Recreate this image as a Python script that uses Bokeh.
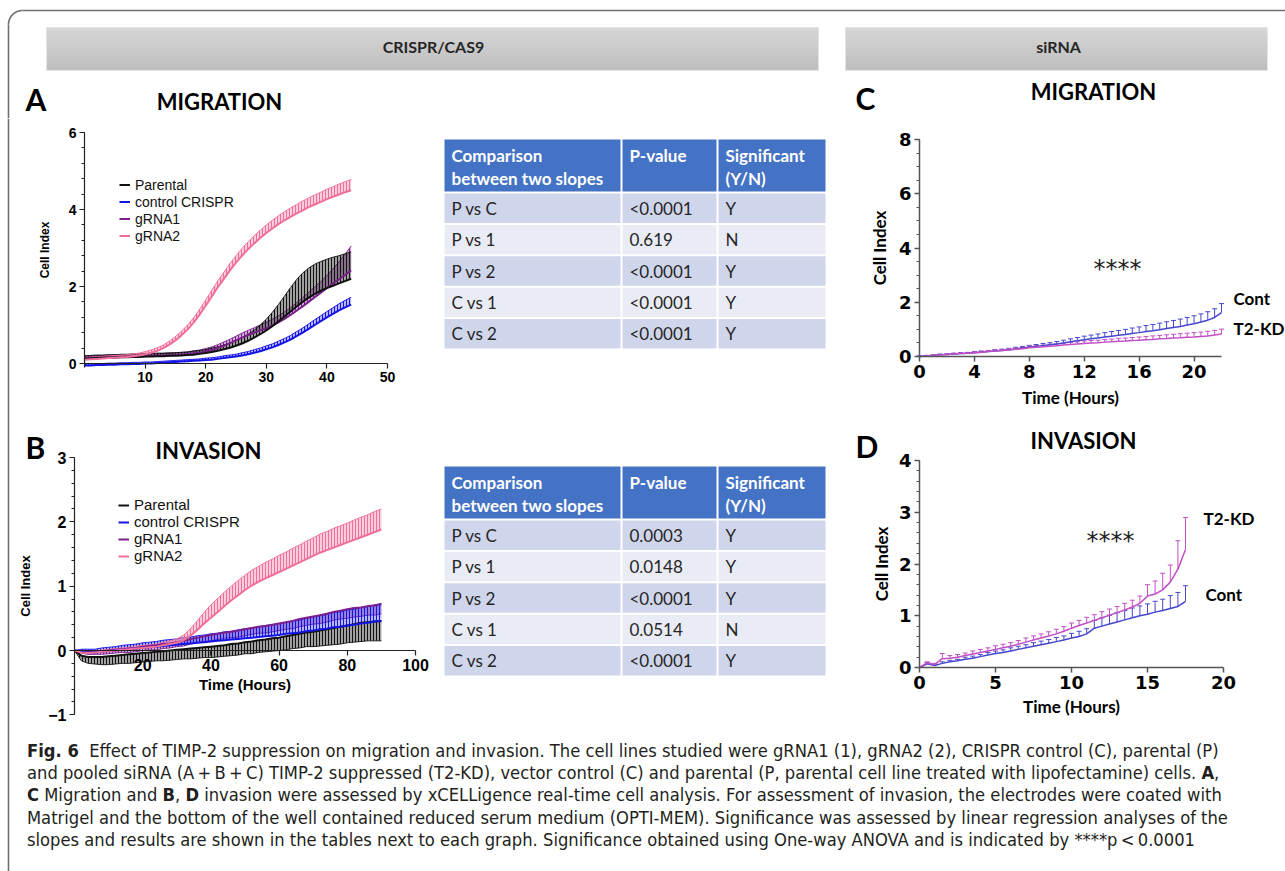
import math
import html
from bokeh.plotting import figure
from bokeh.models import (Range1d, FixedTicker, SingleIntervalTicker, Label, Legend,
                          LegendItem, ColumnDataSource, Whisker, TeeHead, Div)
from bokeh.layouts import column, row
from bokeh.embed import file_html
from bokeh.resources import INLINE
from bokeh.core.properties import value

# ---------------------------------------------------------------- data
# Panel A: CRISPR/Cas9 migration (hours, cell index), one-sided error bars
a_time = list(range(0, 45))
a_parental = [0.12, 0.13, 0.14, 0.14, 0.15, 0.15, 0.16, 0.16, 0.17, 0.17,
              0.18, 0.18, 0.19, 0.19, 0.20, 0.20, 0.21, 0.22, 0.23, 0.25,
              0.27, 0.30, 0.33, 0.37, 0.41, 0.46, 0.52, 0.59, 0.67, 0.76,
              0.86, 0.97, 1.09, 1.22, 1.35, 1.48, 1.60, 1.71, 1.81, 1.89,
              1.96, 2.02, 2.08, 2.14, 2.20]
a_parental_err = [0.08, 0.08, 0.08, 0.08, 0.08, 0.08, 0.08, 0.08, 0.08, 0.08,
                  0.08, 0.08, 0.08, 0.08, 0.08, 0.08, 0.08, 0.08, 0.09, 0.09,
                  0.09, 0.10, 0.10, 0.11, 0.12, 0.13, 0.15, 0.17, 0.20, 0.24,
                  0.29, 0.36, 0.44, 0.53, 0.62, 0.70, 0.75, 0.77, 0.77, 0.76,
                  0.75, 0.74, 0.72, 0.71, 0.70]
a_control = [-0.05, -0.05, -0.04, -0.04, -0.03, -0.03, -0.02, -0.02, -0.01, -0.01,
             0.00, 0.00, 0.01, 0.02, 0.03, 0.04, 0.05, 0.06, 0.07, 0.08,
             0.09, 0.10, 0.12, 0.14, 0.16, 0.18, 0.21, 0.24, 0.28, 0.32,
             0.37, 0.42, 0.48, 0.55, 0.62, 0.71, 0.80, 0.90, 1.00, 1.10,
             1.20, 1.29, 1.38, 1.46, 1.53]
a_control_err = [0.04] * 20 + [0.05, 0.05, 0.05, 0.06, 0.06, 0.06, 0.07, 0.07, 0.08, 0.08,
                               0.09, 0.09, 0.10, 0.10, 0.11, 0.12, 0.12, 0.13, 0.14, 0.14,
                               0.15, 0.16, 0.17, 0.18, 0.19]
a_grna1 = [0.14, 0.15, 0.15, 0.16, 0.16, 0.17, 0.17, 0.18, 0.18, 0.19,
           0.19, 0.20, 0.20, 0.21, 0.21, 0.22, 0.23, 0.24, 0.26, 0.28,
           0.31, 0.35, 0.40, 0.46, 0.53, 0.60, 0.67, 0.74, 0.80, 0.86,
           0.92, 0.99, 1.07, 1.16, 1.26, 1.37, 1.48, 1.60, 1.72, 1.84,
           1.96, 2.08, 2.19, 2.30, 2.42]
a_grna1_err = [0.05] * 15 + [0.06, 0.06, 0.06, 0.07, 0.07,
                             0.08, 0.08, 0.09, 0.10, 0.10, 0.11, 0.12, 0.12, 0.13, 0.14,
                             0.15, 0.16, 0.17, 0.18, 0.19, 0.21, 0.23, 0.25, 0.27, 0.29,
                             0.32, 0.38, 0.45, 0.54, 0.63]
a_grna2 = [0.10, 0.11, 0.12, 0.13, 0.14, 0.15, 0.16, 0.17, 0.19, 0.21,
           0.24, 0.28, 0.33, 0.40, 0.49, 0.60, 0.73, 0.88, 1.06, 1.27,
           1.50, 1.74, 1.98, 2.20, 2.42, 2.62, 2.80, 2.97, 3.12, 3.26,
           3.39, 3.51, 3.62, 3.72, 3.81, 3.90, 3.98, 4.06, 4.13, 4.20,
           4.27, 4.33, 4.39, 4.45, 4.50]
a_grna2_err = [0.06] * 10 + [0.07, 0.07, 0.08, 0.08, 0.09, 0.10, 0.11, 0.12, 0.13, 0.14,
                             0.15, 0.16, 0.17, 0.17, 0.18, 0.18, 0.19, 0.19, 0.20, 0.20,
                             0.21, 0.21, 0.22, 0.22, 0.23, 0.23, 0.24, 0.24, 0.25, 0.25,
                             0.26, 0.26, 0.27, 0.27, 0.28]

# Panel B: CRISPR/Cas9 invasion
b_time = list(range(0, 92, 2))
b_parental = [0.00, -0.08, -0.10, -0.10, -0.10, -0.09, -0.08, -0.07, -0.06, -0.05,
              -0.04, -0.03, -0.02, -0.01, 0.00, 0.01, 0.02, 0.03, 0.04, 0.05,
              0.06, 0.07, 0.08, 0.10, 0.11, 0.13, 0.14, 0.16, 0.17, 0.19,
              0.20, 0.22, 0.24, 0.26, 0.28, 0.29, 0.31, 0.33, 0.35, 0.37,
              0.39, 0.41, 0.43, 0.44, 0.45, 0.46]
b_parental_err = [0.00, 0.08, 0.10, 0.11, 0.12, 0.13, 0.13, 0.13, 0.14, 0.14,
                  0.14, 0.14, 0.14, 0.15, 0.15, 0.15, 0.15, 0.16, 0.16, 0.16,
                  0.17, 0.17, 0.17, 0.18, 0.18, 0.18, 0.19, 0.19, 0.19, 0.20,
                  0.20, 0.21, 0.21, 0.22, 0.22, 0.23, 0.24, 0.25, 0.26, 0.27,
                  0.27, 0.28, 0.29, 0.29, 0.30, 0.31]
b_control = [0.00, -0.02, -0.03, -0.03, -0.02, -0.01, 0.00, 0.01, 0.02, 0.03,
             0.04, 0.05, 0.06, 0.07, 0.08, 0.09, 0.10, 0.11, 0.12, 0.13,
             0.14, 0.15, 0.16, 0.17, 0.18, 0.19, 0.20, 0.21, 0.22, 0.23,
             0.24, 0.26, 0.27, 0.28, 0.30, 0.31, 0.33, 0.34, 0.36, 0.37,
             0.39, 0.40, 0.42, 0.43, 0.45, 0.46]
b_control_err = [0.00, 0.04, 0.05, 0.05, 0.06, 0.06, 0.06, 0.07, 0.07, 0.07,
                 0.08, 0.08, 0.08, 0.09, 0.09, 0.09, 0.10, 0.10, 0.11, 0.11,
                 0.12, 0.12, 0.13, 0.13, 0.14, 0.15, 0.15, 0.16, 0.17, 0.17,
                 0.18, 0.18, 0.19, 0.19, 0.20, 0.21, 0.21, 0.22, 0.23, 0.23,
                 0.24, 0.24, 0.25, 0.25, 0.26, 0.27]
b_grna1 = [0.00, -0.01, -0.02, -0.02, -0.01, 0.00, 0.01, 0.02, 0.03, 0.04,
           0.06, 0.07, 0.08, 0.10, 0.11, 0.13, 0.15, 0.18, 0.20, 0.22,
           0.24, 0.26, 0.28, 0.29, 0.31, 0.33, 0.35, 0.37, 0.38, 0.40,
           0.42, 0.44, 0.46, 0.49, 0.51, 0.53, 0.55, 0.57, 0.60, 0.62,
           0.64, 0.66, 0.67, 0.69, 0.70, 0.72]
b_grna1_err = [0.00, 0.03, 0.04, 0.04, 0.05, 0.05, 0.05, 0.05, 0.06, 0.06,
               0.06, 0.06, 0.07, 0.07, 0.07, 0.07, 0.08, 0.08, 0.08, 0.08,
               0.09, 0.09, 0.09, 0.09, 0.10, 0.10, 0.10, 0.10, 0.11, 0.11,
               0.11, 0.11, 0.12, 0.12, 0.12, 0.12, 0.13, 0.13, 0.13, 0.13,
               0.14, 0.14, 0.14, 0.14, 0.15, 0.15]
b_grna2 = [0.00, -0.03, -0.04, -0.03, -0.02, -0.01, 0.00, 0.01, 0.02, 0.03,
           0.04, 0.05, 0.06, 0.08, 0.10, 0.12, 0.16, 0.23, 0.32, 0.42,
           0.51, 0.60, 0.69, 0.78, 0.86, 0.94, 1.01, 1.07, 1.12, 1.17,
           1.22, 1.27, 1.32, 1.37, 1.42, 1.47, 1.52, 1.56, 1.60, 1.64,
           1.68, 1.72, 1.76, 1.80, 1.84, 1.88]
b_grna2_err = [0.00, 0.02, 0.02, 0.02, 0.03, 0.03, 0.03, 0.03, 0.03, 0.04,
               0.04, 0.04, 0.04, 0.05, 0.05, 0.06, 0.08, 0.11, 0.14, 0.17,
               0.20, 0.21, 0.22, 0.22, 0.23, 0.23, 0.24, 0.24, 0.25, 0.25,
               0.26, 0.26, 0.27, 0.27, 0.28, 0.28, 0.29, 0.29, 0.30, 0.30,
               0.30, 0.31, 0.31, 0.31, 0.32, 0.32]

# Panel C: siRNA migration
c_time = [k * 0.5 for k in range(45)]
c_cont = [0.00, 0.02, 0.04, 0.06, 0.07, 0.09, 0.11, 0.12, 0.14, 0.16,
          0.18, 0.20, 0.22, 0.25, 0.28, 0.31, 0.34, 0.37, 0.40, 0.43,
          0.46, 0.50, 0.54, 0.58, 0.62, 0.65, 0.68, 0.72, 0.75, 0.78,
          0.81, 0.85, 0.88, 0.92, 0.95, 0.99, 1.03, 1.07, 1.11, 1.16,
          1.21, 1.27, 1.34, 1.44, 1.62]
c_cont_err = [0.02, 0.02, 0.02, 0.03, 0.03, 0.03, 0.03, 0.03, 0.04, 0.04,
              0.04, 0.05, 0.05, 0.05, 0.06, 0.06, 0.07, 0.07, 0.08, 0.08,
              0.09, 0.10, 0.11, 0.12, 0.13, 0.14, 0.15, 0.16, 0.17, 0.18,
              0.19, 0.20, 0.21, 0.22, 0.23, 0.24, 0.25, 0.26, 0.27, 0.28,
              0.29, 0.30, 0.31, 0.32, 0.33]
c_kd = [0.00, 0.02, 0.04, 0.06, 0.07, 0.09, 0.11, 0.12, 0.14, 0.16,
        0.18, 0.20, 0.22, 0.24, 0.27, 0.29, 0.32, 0.34, 0.36, 0.38,
        0.40, 0.42, 0.44, 0.46, 0.48, 0.50, 0.51, 0.53, 0.54, 0.56,
        0.57, 0.59, 0.60, 0.62, 0.63, 0.65, 0.66, 0.68, 0.69, 0.71,
        0.72, 0.74, 0.76, 0.79, 0.83]
c_kd_err = [0.02, 0.02, 0.02, 0.02, 0.03, 0.03, 0.03, 0.03, 0.03, 0.03,
            0.04, 0.04, 0.04, 0.05, 0.05, 0.05, 0.06, 0.06, 0.06, 0.07,
            0.07, 0.07, 0.08, 0.08, 0.09, 0.09, 0.09, 0.10, 0.10, 0.11,
            0.11, 0.11, 0.12, 0.12, 0.13, 0.13, 0.14, 0.14, 0.15, 0.15,
            0.16, 0.16, 0.17, 0.17, 0.18]

# Panel D: siRNA invasion
d_time = [k * 0.5 for k in range(36)]
d_kd = [0.00, 0.09, 0.06, 0.17, 0.18, 0.20, 0.23, 0.26, 0.29, 0.32,
        0.35, 0.38, 0.41, 0.45, 0.49, 0.53, 0.57, 0.61, 0.65, 0.70,
        0.76, 0.81, 0.86, 0.91, 0.96, 1.01, 1.06, 1.11, 1.17, 1.24,
        1.38, 1.42, 1.50, 1.65, 1.90, 2.28]
d_kd_err = [0.00, 0.02, 0.02, 0.10, 0.05, 0.05, 0.05, 0.06, 0.06, 0.06,
            0.07, 0.07, 0.07, 0.07, 0.08, 0.08, 0.08, 0.08, 0.09, 0.09,
            0.10, 0.10, 0.11, 0.11, 0.12, 0.12, 0.12, 0.13, 0.13, 0.14,
            0.22, 0.25, 0.32, 0.33, 0.55, 0.62]
d_cont = [0.00, 0.07, 0.04, 0.08, 0.11, 0.13, 0.16, 0.18, 0.21, 0.24,
          0.27, 0.29, 0.32, 0.35, 0.38, 0.41, 0.44, 0.47, 0.50, 0.53,
          0.57, 0.60, 0.65, 0.76, 0.80, 0.84, 0.88, 0.92, 0.96, 1.00,
          1.03, 1.07, 1.10, 1.14, 1.18, 1.28]
d_cont_err = [0.00, 0.02, 0.02, 0.03, 0.03, 0.03, 0.04, 0.04, 0.04, 0.05,
              0.05, 0.05, 0.06, 0.06, 0.06, 0.07, 0.07, 0.07, 0.08, 0.08,
              0.09, 0.10, 0.10, 0.15, 0.16, 0.17, 0.18, 0.18, 0.19, 0.19,
              0.20, 0.21, 0.22, 0.25, 0.27, 0.30]

# Tables
table_header = [["Comparison", "between two slopes"], ["P-value"], ["Significant", "(Y/N)"]]
comparisons = ["P vs C", "P vs 1", "P vs 2", "C vs 1", "C vs 2"]
pvals_migration = ["<0.0001", "0.619", "<0.0001", "<0.0001", "<0.0001"]
sig_migration = ["Y", "N", "Y", "Y", "Y"]
pvals_invasion = ["0.0003", "0.0148", "<0.0001", "0.0514", "<0.0001"]
sig_invasion = ["Y", "Y", "Y", "N", "Y"]

legend_labels = ["Parental", "control CRISPR", "gRNA1", "gRNA2"]
sirna_labels = ["Cont", "T2-KD"]
section_titles = ["CRISPR/CAS9", "siRNA"]

caption_lines = [
    [("Fig. 6", True), ("\u00a0 Effect of TIMP-2 suppression on migration and invasion. The cell lines studied were gRNA1 (1), gRNA2 (2), CRISPR control (C), parental (P)", False)],
    [("and pooled siRNA (A\u2009+\u2009B\u2009+\u2009C) TIMP-2 suppressed (T2-KD), vector control (C) and parental (P, parental cell line treated with lipofectamine) cells. ", False), ("A", True), (",", False)],
    [("C", True), (" Migration and ", False), ("B", True), (", ", False), ("D", True), (" invasion were assessed by xCELLigence real-time cell analysis. For assessment of invasion, the electrodes were coated with", False)],
    [("Matrigel and the bottom of the well contained reduced serum medium (OPTI-MEM). Significance was assessed by linear regression analyses of the", False)],
    [("slopes and results are shown in the tables next to each graph. Significance obtained using One-way ANOVA and is indicated by ****p\u2009<\u20090.0001", False)],
]

# ---------------------------------------------------------------- colours / fonts
COL_PAR, COL_CTRL, COL_G1, COL_G2 = "#111111", "#1414e6", "#7a1f8c", "#ef6f98"
COL_CONT, COL_KD = "#4646cf", "#c24fc6"
ARIAL = "Liberation Sans"
CAL = "Lato"
BORDER = "#707070"


def canvas(w, h, x0, x1, y0, y1):
    """Decoration canvas in page pixel units (y grows downwards)."""
    p = figure(width=w, height=h, x_range=Range1d(x0, x1), y_range=Range1d(y1, y0),
               x_axis_type=None, y_axis_type=None, output_backend="svg",
               toolbar_location=None, min_border=0)
    p.outline_line_color = None
    return p


class Chart:
    """Full-bleed figure whose axes sit at x=0 / y=0 (fixed_location)."""

    def __init__(self, box, xcal, ycal, xbounds, ybounds):
        px0, px1, py0, py1 = box
        xa, xva, xb, xvb = xcal
        ya, yva, yb, yvb = ycal
        self.sx = (xb - xa) / (xvb - xva)
        self.sy = (ya - yb) / (yvb - yva)
        self.xa, self.xva, self.ya, self.yva = xa, xva, ya, yva
        xr = (self.dx(px0), self.dx(px1))
        yr = (self.dy(py1), self.dy(py0))
        p = figure(width=px1 - px0, height=py1 - py0, x_range=Range1d(*xr),
                   y_range=Range1d(*yr), min_border=0, output_backend="svg",
                   toolbar_location=None)
        p.grid.visible = False
        p.outline_line_color = None
        p.xaxis[0].fixed_location = 0
        p.yaxis[0].fixed_location = 0
        p.xaxis[0].bounds = xbounds
        p.yaxis[0].bounds = ybounds
        self.p = p

    def dx(self, px):
        return self.xva + (px - self.xa) / self.sx

    def dy(self, py):
        return self.yva + (self.ya - py) / self.sy

    def label(self, px, py, text, size, font=CAL, align="left", style="bold", color="black"):
        self.p.add_layout(Label(x=self.dx(px), y=self.dy(py), text=text, text_align=align,
                                text_baseline="middle", text_font=font,
                                text_font_style=style, text_font_size=size, text_color=color))


def style_axis(ax, font, size, color="#222222", lw=1.2, minor=True):
    ax.axis_line_color = color
    ax.axis_line_width = lw
    ax.major_tick_line_color = color
    ax.major_tick_line_width = lw
    ax.minor_tick_line_color = color if minor else None
    ax.major_tick_out = 5
    ax.major_tick_in = 0
    ax.minor_tick_out = 3
    ax.minor_tick_in = 0
    ax.major_label_text_font = font
    ax.major_label_text_font_size = size
    ax.major_label_text_font_style = "bold"
    ax.major_label_text_color = "black"
    ax.major_label_standoff = 3
    ax.axis_label_text_font_style = "bold"
    ax.axis_label_text_color = "black"


def draw_band(p, t, m, e, sign, color, alpha):
    edge = [mi + sign * ei for mi, ei in zip(m, e)]
    p.varea(x=t, y1=m, y2=edge, fill_color=color, fill_alpha=alpha,
            hatch_pattern="vertical_line", hatch_color=color, hatch_alpha=1.0,
            hatch_scale=3.0, hatch_weight=1.0)
    p.line(t, edge, line_color=color, line_width=1, line_alpha=0.9)


def add_legend(p, renderers, loc, size, row_h):
    items = [LegendItem(label=lab, renderers=[r]) for lab, r in zip(legend_labels, renderers)]
    lg = Legend(items=items, location=loc, orientation="vertical", border_line_color=None,
                background_fill_alpha=0, padding=0, margin=0, spacing=0,
                glyph_width=11, glyph_height=row_h, label_height=row_h, label_standoff=5,
                label_text_font=ARIAL, label_text_font_size=size, label_text_color="#111111")
    p.add_layout(lg)


def draw_table(p, top, pvals, sigs):
    cols = [443, 621, 717, 826]
    head_h, row_h = 53, 31.4
    L, R, T, B, C = [], [], [], [], []
    for j in range(3):
        L.append(cols[j] + 1); R.append(cols[j + 1] - 1)
        T.append(top); B.append(top + head_h - 1); C.append("#4472c4")
        for i in range(len(comparisons)):
            y0 = top + head_h + i * row_h
            L.append(cols[j] + 1); R.append(cols[j + 1] - 1)
            T.append(y0 + 1); B.append(y0 + row_h - 1)
            C.append("#cfd5ea" if i % 2 == 0 else "#e9ebf5")
    p.quad(left=L, right=R, top=T, bottom=B, fill_color=C, line_color=None)
    hx, hy, ht = [], [], []
    for j, lines in enumerate(table_header):
        for k, s in enumerate(lines):
            hx.append(cols[j] + 8); hy.append(top + 16 + 23 * k); ht.append(s)
    p.text(x=hx, y=hy, text=ht, text_color="white", text_font=value(CAL),
           text_font_style="bold", text_font_size="17px", text_baseline="middle")
    dx, dy, dt = [], [], []
    for i, vals in enumerate(zip(comparisons, pvals, sigs)):
        for j, s in enumerate(vals):
            dx.append(cols[j] + 8); dy.append(top + head_h + i * row_h + row_h / 2); dt.append(s)
    p.text(x=dx, y=dy, text=dt, text_color="#262626", text_font=value(CAL),
           text_font_size="17px", text_baseline="middle")


# ---------------------------------------------------------------- header band (page y 0..118)
hdr = canvas(1285, 118, 0, 1285, 0, 118)
arc = [i * math.pi / 40 for i in range(21)]
hdr.line([22 - 14 * math.cos(a) for a in arc], [24 - 14 * math.sin(a) for a in arc],
         line_color=BORDER, line_width=1.6)
hdr.line([22, 1285], [10, 10], line_color=BORDER, line_width=1.6)
hdr.line([8, 8], [24, 118], line_color=BORDER, line_width=1.6)
nstrip = 12
shades = []
for k in range(nstrip):
    g = int(0xd6 - (0xd6 - 0xbf) * k / (nstrip - 1))
    shades.append("#%02x%02x%02x" % (g, g, g))
for (x0, x1) in [(46, 818), (845, 1267)]:
    ys = [27 + 43 * k / nstrip for k in range(nstrip + 1)]
    hdr.quad(left=[x0] * nstrip, right=[x1] * nstrip, top=ys[:-1],
             bottom=[min(y + 1.2, 70) for y in ys[1:]], fill_color=shades, line_color=None)
    hdr.quad(left=[x0], right=[x1], top=[27], bottom=[70], fill_color=None,
             line_color="#e4e4e4", line_width=1)
hdr.text(x=[433, 1058], y=[46, 46], text=section_titles, text_align="center",
         text_baseline="middle", text_font=value(CAL), text_font_style="bold",
         text_font_size="16px", text_color="#262626")
hdr.text(x=[25, 855], y=[98, 97], text=["A", "C"], text_baseline="middle",
         text_font=value(CAL), text_font_style="bold", text_font_size="30px", text_color="black")
hdr.text(x=[219, 1093], y=[101, 91], text=["MIGRATION", "MIGRATION"], text_align="center",
         text_baseline="middle", text_font=value(CAL), text_font_style="bold",
         text_font_size="22px", text_color="black")

# ---------------------------------------------------------------- left border strip
strip = canvas(11, 753, 0, 11, 118, 871)
strip.line([8, 8], [118, 871], line_color=BORDER, line_width=1.6)

# ---------------------------------------------------------------- panel A
cA = Chart((11, 430, 118, 420), (84, 0, 387, 50), (363, 0, 132, 6), (0, 50), (-0.1, 6))
pA = cA.p
for m, e, c, al in [(a_grna1, a_grna1_err, COL_G1, 0.35), (a_control, a_control_err, COL_CTRL, 0.3),
                    (a_parental, a_parental_err, COL_PAR, 0.4), (a_grna2, a_grna2_err, COL_G2, 0.35)]:
    draw_band(pA, a_time, m, e, 1, c, al)
rA = {}
for key, m, c in [("g1", a_grna1, COL_G1), ("ctrl", a_control, COL_CTRL),
                  ("par", a_parental, COL_PAR), ("g2", a_grna2, COL_G2)]:
    rA[key] = pA.line(a_time, m, line_color=c, line_width=2)
style_axis(pA.xaxis[0], ARIAL, "14px", minor=False)
style_axis(pA.yaxis[0], ARIAL, "14px")
pA.xaxis[0].ticker = FixedTicker(ticks=[10, 20, 30, 40, 50])
pA.yaxis[0].ticker = SingleIntervalTicker(interval=2, num_minor_ticks=5)
pA.yaxis[0].axis_label = "Cell Index"
pA.yaxis[0].axis_label_text_font = ARIAL
pA.yaxis[0].axis_label_text_font_size = "12px"
pA.yaxis[0].axis_label_standoff = 14
add_legend(pA, [rA["par"], rA["ctrl"], rA["g1"], rA["g2"]], (108, 176), "14px", 17)

# ---------------------------------------------------------------- table A
tA = canvas(405, 302, 430, 835, 118, 420)
draw_table(tA, 139, pvals_migration, sig_migration)

# ---------------------------------------------------------------- panel C
cC = Chart((835, 1285, 118, 420), (919, 0, 1221, 22), (356, 0, 139, 8), (0, 22), (0, 8))
pC = cC.p
for m, e, c in [(c_cont, c_cont_err, COL_CONT), (c_kd, c_kd_err, COL_KD)]:
    hi = [mi + ei for mi, ei in zip(m, e)]
    src = ColumnDataSource(dict(t=c_time, lo=m, hi=hi))
    pC.add_layout(Whisker(base="t", lower="lo", upper="hi", source=src, dimension="height",
                          line_color=c, line_width=1, lower_head=None,
                          upper_head=TeeHead(size=5, line_color=c, line_width=1)))
    pC.line(c_time, m, line_color=c, line_width=1.5)
style_axis(pC.xaxis[0], "DejaVu Sans", "18px", color="#555555", lw=1.5, minor=False)
style_axis(pC.yaxis[0], "DejaVu Sans", "18px", color="#555555", lw=1.5)
pC.xaxis[0].ticker = FixedTicker(ticks=[0, 4, 8, 12, 16, 20])
pC.yaxis[0].ticker = SingleIntervalTicker(interval=2, num_minor_ticks=4)
pC.xaxis[0].axis_label = "Time (Hours)"
pC.yaxis[0].axis_label = "Cell Index"
for ax in (pC.xaxis[0], pC.yaxis[0]):
    ax.axis_label_text_font = CAL
    ax.axis_label_text_font_size = "17px"
    ax.axis_label_standoff = 6
cC.label(1117, 268, "****", "24px", font="DejaVu Sans", align="center", style="normal",
         color="#222222")
cC.label(1233, 298, sirna_labels[0], "17px")
cC.label(1233, 328, sirna_labels[1], "17px")

# ---------------------------------------------------------------- panel B
cB = Chart((11, 430, 420, 726), (74, 0, 415, 100), (650, 0, 457, 3), (0, 100), (-1, 3))
pB = cB.p
for m, e, s, c, al in [(b_grna1, b_grna1_err, -1, COL_G1, 0.35), (b_control, b_control_err, 1, COL_CTRL, 0.3),
                       (b_parental, b_parental_err, -1, COL_PAR, 0.4), (b_grna2, b_grna2_err, 1, COL_G2, 0.35)]:
    draw_band(pB, b_time, m, e, s, c, al)
rB = {}
for key, m, c in [("g1", b_grna1, COL_G1), ("par", b_parental, COL_PAR),
                  ("ctrl", b_control, COL_CTRL), ("g2", b_grna2, COL_G2)]:
    rB[key] = pB.line(b_time, m, line_color=c, line_width=2)
style_axis(pB.xaxis[0], ARIAL, "16px", minor=False)
style_axis(pB.yaxis[0], ARIAL, "16px")
pB.xaxis[0].ticker = FixedTicker(ticks=[20, 40, 60, 80, 100])
pB.xaxis[0].axis_label = "Time (Hours)"
pB.xaxis[0].axis_label_text_font = ARIAL
pB.xaxis[0].axis_label_text_font_size = "15px"
pB.xaxis[0].axis_label_standoff = 2
pB.yaxis[0].ticker = SingleIntervalTicker(interval=1, num_minor_ticks=5)
pB.yaxis[0].axis_label = "Cell Index"
pB.yaxis[0].axis_label_text_font = ARIAL
pB.yaxis[0].axis_label_text_font_size = "13px"
pB.yaxis[0].axis_label_standoff = 12
add_legend(pB, [rB["par"], rB["ctrl"], rB["g1"], rB["g2"]], (107, 162), "15px", 16)
cB.label(25, 446, "B", "30px")
cB.label(208, 450, "INVASION", "22px", align="center")

# ---------------------------------------------------------------- table B
tB = canvas(405, 306, 430, 835, 420, 726)
draw_table(tB, 466, pvals_invasion, sig_invasion)

# ---------------------------------------------------------------- panel D
cD = Chart((835, 1285, 420, 726), (919, 0, 1223, 20), (667, 0, 460, 4), (0, 20), (0, 4))
pD = cD.p
for m, e, c in [(d_cont, d_cont_err, COL_CONT), (d_kd, d_kd_err, COL_KD)]:
    hi = [mi + ei for mi, ei in zip(m, e)]
    src = ColumnDataSource(dict(t=d_time, lo=m, hi=hi))
    pD.add_layout(Whisker(base="t", lower="lo", upper="hi", source=src, dimension="height",
                          line_color=c, line_width=1, lower_head=None,
                          upper_head=TeeHead(size=5, line_color=c, line_width=1)))
    pD.line(d_time, m, line_color=c, line_width=1.5)
style_axis(pD.xaxis[0], "DejaVu Sans", "18px", color="#555555", lw=1.5, minor=False)
style_axis(pD.yaxis[0], "DejaVu Sans", "18px", color="#555555", lw=1.5)
pD.xaxis[0].ticker = FixedTicker(ticks=[0, 5, 10, 15, 20])
pD.yaxis[0].ticker = SingleIntervalTicker(interval=1, num_minor_ticks=5)
pD.xaxis[0].axis_label = "Time (Hours)"
pD.yaxis[0].axis_label = "Cell Index"
for ax in (pD.xaxis[0], pD.yaxis[0]):
    ax.axis_label_text_font = CAL
    ax.axis_label_text_font_size = "17px"
    ax.axis_label_standoff = 4
cD.label(1110, 540, "****", "24px", font="DejaVu Sans", align="center", style="normal",
         color="#222222")
cD.label(1203, 518, sirna_labels[1], "17px")
cD.label(1205, 594, sirna_labels[0], "17px")
cD.label(855, 445, "D", "30px")
cD.label(1083, 440, "INVASION", "22px", align="center")

# ---------------------------------------------------------------- caption
parts = []
for line in caption_lines:
    seg = "".join(("<b>%s</b>" % html.escape(t)) if b else html.escape(t) for t, b in line)
    parts.append(seg)
cap_html = ("<div style=\"font-family:'DejaVu Sans'; font-stretch:condensed; font-size:18.2px; "
            "line-height:22.2px; color:#231f20; padding:9px 0 0 11px; white-space:nowrap;\">"
            + "<br>".join(parts) + "</div>")
cap = Div(text=cap_html, width=1274, height=145)

# ---------------------------------------------------------------- layout
body = column(row(pA, tA, pC), row(pB, tB, pD), cap)
root = column(hdr, row(strip, body))
open("out.html", "w").write(file_html(root, INLINE))
